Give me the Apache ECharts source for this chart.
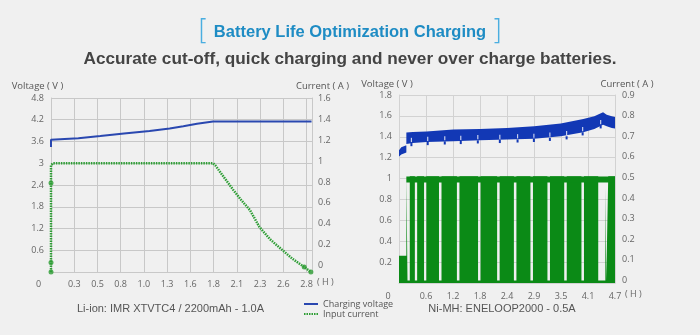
<!DOCTYPE html>
<html><head><meta charset="utf-8">
<script src="https://cdn.jsdelivr.net/npm/echarts@6/dist/echarts.min.js"></script>
<style>html,body{margin:0;padding:0;background:#f0f0f0}#c{width:700px;height:335px}</style>
</head><body><div id="c"></div>
<script>
// ---------- Left chart: Li-ion ----------
const liXLabels = ['0','0.3','0.5','0.8','1.0','1.3','1.6','1.8','2.1','2.3','2.6','2.8'];
const liCurLabels = [0, 0.2, 0.4, 0.6, 0.8, 1, 1.2, 1.4, 1.6];
const liVoltT = [0, 0, 0.3, 0.54, 0.8, 1.08, 1.3, 1.45, 1.6, 1.775, 2.855];
const liVoltV = [3.45, 3.65, 3.69, 3.75, 3.82, 3.89, 3.96, 4.02, 4.09, 4.15, 4.15];
const liCurT = [0, 0, 0, 0, 0.02, 0.05, 1.775, 1.80, 2.0, 2.087, 2.18, 2.284, 2.4, 2.538, 2.65, 2.775, 2.848];
const liCurA = [-0.064, 0.026, 0.79, 0.96, 0.98, 0.98, 0.98, 0.96, 0.72, 0.624, 0.53, 0.368, 0.25, 0.144, 0.06, -0.016, -0.064];
const liDotT = [0, 0, 0, 2.775, 2.848];
const liDotA = [-0.064, 0.026, 0.79, -0.016, -0.064];

// ---------- Right chart: Ni-MH ----------
const niXLabels = ['0','0.6','1.2','1.8','2.4','2.9','3.5','4.1','4.7'];
const niCurLabels = [0, 0.1, 0.2, 0.3, 0.4, 0.5, 0.6, 0.7, 0.8, 0.9];
const niVoltT    = [0,    0.05, 0.16, 0.16, 0.3,   0.6,  1.18,  1.76,  2.35,  2.94, 3.52,  4.01,  4.25,  4.44,  4.52, 4.63,  4.70];
const niVoltHigh = [1.27, 1.30, 1.32, 1.44, 1.445, 1.45, 1.47,  1.475, 1.485, 1.50, 1.526, 1.57,  1.596, 1.634, 1.61, 1.596, 1.59];
const niVoltLow  = [1.21, 1.23, 1.25, 1.33, 1.34,  1.35, 1.356, 1.366, 1.373, 1.38, 1.405, 1.443, 1.475, 1.516, 1.50, 1.485, 1.48];
// rest-period voltage drops seen as notches under the band
const niNotchT = [0.27, 0.625, 0.996, 1.344, 1.715, 2.194, 2.58, 2.935, 3.283, 3.647, 3.996, 4.388];
const niNotchV = [1.34, 1.35, 1.356, 1.36, 1.366, 1.37, 1.375, 1.38, 1.39, 1.405, 1.443, 1.51];
const niCurT = [0, 0.16, 0.16,
  0.185, 0.185, 0.235, 0.235,
  0.345, 0.345, 0.395, 0.395,
  0.545, 0.545, 0.595, 0.595,
  0.87, 0.87, 0.925, 0.925,
  1.26, 1.26, 1.315, 1.315,
  1.72, 1.72, 1.775, 1.775,
  2.135, 2.135, 2.19, 2.19,
  2.50, 2.50, 2.555, 2.555,
  2.86, 2.86, 2.915, 2.915,
  3.23, 3.23, 3.285, 3.285,
  3.595, 3.595, 3.65, 3.65,
  3.97, 3.97, 4.025, 4.025,
  4.335, 4.335, 4.49, 4.49, 4.51, 4.51, 4.553, 4.553,
  4.70];
const niCurA = [0.12, 0.12, 0.505,
  0.505, 0, 0, 0.505,
  0.505, 0, 0, 0.505,
  0.505, 0, 0, 0.505,
  0.505, 0, 0, 0.505,
  0.505, 0, 0, 0.505,
  0.505, 0, 0, 0.505,
  0.505, 0, 0, 0.505,
  0.505, 0, 0, 0.505,
  0.505, 0, 0, 0.505,
  0.505, 0, 0, 0.505,
  0.505, 0, 0, 0.505,
  0.505, 0, 0, 0.505,
  0.505, 0, 0, 0.45, 0.45, 0, 0, 0.505,
  0.505];
const niPeakT = [0.16, 4.70];
const niPeakA = [0.49, 0.49];
const hourUnit = '( H )';

const pairs = (xs, ys) => xs.map((x, i) => [x, ys[i]]);

const BG = '#f0f0f0';
const BLUE = '#2a48b0', GREEN = '#2e9e35', NBLUE = '#1238b5', NGREEN = '#0b8a16';
const GRID1 = '#c8c8c8', GRID2 = '#d2d2d2';
const FONT = 'Open Sans';
const tickLbl = { color: '#666', fontSize: 9, fontFamily: FONT };
const nameSt = (pad) => ({ color: '#555', fontSize: 9.5, fontFamily: FONT, align: 'center', padding: pad });
const hName = { color: '#666', fontSize: 9, fontFamily: FONT, verticalAlign: 'top', lineHeight: 23 };

function bandItem(params, api) {
  if (params.dataIndex !== 0) return null;
  const pts = [];
  for (let i = 0; i < niVoltT.length; i++) pts.push(api.coord([niVoltT[i], niVoltHigh[i]]));
  for (let i = niVoltT.length - 1; i >= 0; i--) pts.push(api.coord([niVoltT[i], niVoltLow[i]]));
  return { type: 'polygon', shape: { points: pts }, style: { fill: NBLUE } };
}
function notchItem(params, api) {
  const t = api.value(0), v = api.value(1);
  const pLow = api.coord([t, v - 0.03]);
  const pBase = api.coord([t, v]);
  const pUp = api.coord([t, v + 0.05]);
  return { type: 'group', children: [
    { type: 'rect', shape: { x: pBase[0] - 1, y: pBase[1], width: 2, height: pLow[1] - pBase[1] }, style: { fill: NBLUE } },
    { type: 'rect', shape: { x: pBase[0] - 0.6, y: pUp[1], width: 1.2, height: pBase[1] - pUp[1] - 1 }, style: { fill: '#c8d0ec' } }
  ] };
}

const chart = echarts.init(document.getElementById('c'), null, { renderer: 'canvas' });
chart.setOption({
  animation: false,
  backgroundColor: BG,
  title: [
    { text: '{b|[}{t|Battery Life Optimization Charging}{b|]}', left: 'center', top: 18, padding: 0,
      textStyle: { rich: {
        b: { fontSize: 29, fontFamily: 'DejaVu Sans', fontWeight: 'lighter', color: '#4aaee0' },
        t: { fontSize: 16.5, fontFamily: 'Liberation Sans', fontWeight: 'bold', color: '#1e8cc4', padding: [0, 5, 0, 5] } } } },
    { text: 'Accurate cut-off, quick charging and never over charge batteries.', left: 'center', top: 51, padding: 0,
      textStyle: { fontSize: 17.2, fontFamily: 'Liberation Sans', fontWeight: 'bold', color: '#444' } }
  ],
  graphic: [
    { type: 'text', x: 170.5, y: 309, style: { text: 'Li-ion: IMR XTVTC4 / 2200mAh - 1.0A', align: 'center', verticalAlign: 'middle', fill: '#555', font: '11px "Liberation Sans"' } },
    { type: 'text', x: 502, y: 309, style: { text: 'Ni-MH: ENELOOP2000 - 0.5A', align: 'center', verticalAlign: 'middle', fill: '#555', font: '11px "Liberation Sans"' } },
    { type: 'text', left: 317, top: 278, style: { text: hourUnit, fill: '#666', font: '9px "Open Sans"' } }
  ],
  legend: {
    data: ['Charging voltage', 'Input current'], orient: 'vertical', left: 298, top: 294,
    itemWidth: 14, itemHeight: 4, itemGap: 0, selectedMode: false,
    itemStyle: { opacity: 0 },
    textStyle: { fontSize: 9, color: '#555', fontFamily: FONT, lineHeight: 10 }
  },
  grid: [
    { left: 51, top: 98, width: 261, height: 174 },
    { left: 399, top: 95, width: 216, height: 188 }
  ],
  xAxis: [
    { type: 'value', gridIndex: 0, min: 0, max: 2.86, interval: 2.8 / 11,
      axisLine: { lineStyle: { color: GRID1 } }, axisTick: { show: false },
      splitLine: { lineStyle: { color: GRID1 } },
      axisLabel: Object.assign({ margin: 8,
        formatter: (v, i) => i === 0 ? '{z|0}' : (liXLabels[i] || ''),
        rich: { z: { padding: [0, 25, 0, 0], color: '#666', fontSize: 9, fontFamily: FONT } } }, tickLbl) },
    { type: 'value', gridIndex: 1, min: 0, max: 4.7, interval: 0.5875,
      name: hourUnit, nameLocation: 'end', nameGap: 10, nameMoveOverlap: false, nameTextStyle: hName,
      axisLine: { lineStyle: { color: GRID2 } }, axisTick: { show: false },
      splitLine: { lineStyle: { color: GRID2 } },
      axisLabel: Object.assign({ margin: 9, formatter: (v, i) => i === 0 ? '{z|0}' : (niXLabels[i] || ''),
        rich: { z: { padding: [0, 22, 0, 0], color: '#666', fontSize: 9, fontFamily: FONT } } }, tickLbl) }
  ],
  yAxis: [
    { type: 'value', gridIndex: 0, position: 'left', min: 0, max: 4.8, interval: 0.6,
      name: 'Voltage ( V )', nameGap: 7, nameMoveOverlap: false, nameTextStyle: nameSt([0, 27, 0, 0]),
      axisLine: { show: true, lineStyle: { color: GRID1 } }, axisTick: { show: false },
      splitLine: { lineStyle: { color: GRID1 } },
      axisLabel: Object.assign({ margin: 7, showMinLabel: false }, tickLbl) },
    { type: 'value', gridIndex: 0, position: 'right', min: -0.064, max: 1.606,
      name: 'Current ( A )', nameGap: 7, nameMoveOverlap: false, nameTextStyle: nameSt([0, 0, 0, 21]),
      axisLine: { show: true, lineStyle: { color: GRID1 } }, axisTick: { show: false },
      splitLine: { show: false },
      axisLabel: Object.assign({ margin: 6, customValues: liCurLabels }, tickLbl) },
    { type: 'value', gridIndex: 1, position: 'left', min: 0, max: 1.8, interval: 0.2,
      name: 'Voltage ( V )', nameGap: 6, nameMoveOverlap: false, nameTextStyle: nameSt([0, 24, 0, 0]),
      axisLine: { show: true, lineStyle: { color: GRID2 } }, axisTick: { show: false },
      splitLine: { lineStyle: { color: GRID2 } },
      axisLabel: Object.assign({ margin: 7, showMinLabel: false }, tickLbl) },
    { type: 'value', gridIndex: 1, position: 'right', min: -0.0126, max: 0.9,
      name: 'Current ( A )', nameGap: 6, nameMoveOverlap: false, nameTextStyle: nameSt([0, 0, 0, 24]),
      axisLine: { show: true, lineStyle: { color: GRID2 } }, axisTick: { show: false },
      splitLine: { show: false },
      axisLabel: Object.assign({ margin: 7, customValues: niCurLabels }, tickLbl) }
  ],
  series: [
    { name: 'Charging voltage', type: 'line', xAxisIndex: 0, yAxisIndex: 0,
      data: pairs(liVoltT, liVoltV), symbol: 'none', color: BLUE,
      lineStyle: { color: BLUE, width: 2 } },
    { name: 'Input current', type: 'line', xAxisIndex: 0, yAxisIndex: 1, clip: false,
      data: pairs(liCurT, liCurA), symbol: 'none', color: GREEN,
      lineStyle: { color: GREEN, width: 2.5, type: [1.5, 1] } },
    { name: 'Input current', type: 'scatter', xAxisIndex: 0, yAxisIndex: 1, clip: false,
      data: pairs(liDotT, liDotA), symbolSize: 5, itemStyle: { color: GREEN } },
    { name: 'Charging voltage', type: 'custom', xAxisIndex: 1, yAxisIndex: 2,
      renderItem: bandItem, color: NBLUE,
      data: niVoltT.map((t, i) => [t, niVoltHigh[i], niVoltLow[i]]), encode: { x: 0, y: [1, 2] } },
    { name: 'Charging voltage', type: 'custom', xAxisIndex: 1, yAxisIndex: 2,
      renderItem: notchItem, color: NBLUE, z: 3,
      data: pairs(niNotchT, niNotchV), encode: { x: 0, y: 1 } },
    { name: 'Input current', type: 'line', xAxisIndex: 1, yAxisIndex: 3,
      data: pairs(niCurT, niCurA), symbol: 'none', color: NGREEN,
      lineStyle: { width: 0 }, areaStyle: { color: NGREEN, opacity: 1, origin: 'start' } },
    { name: 'Input current', type: 'line', xAxisIndex: 1, yAxisIndex: 3,
      data: pairs(niPeakT, niPeakA), symbol: 'none', color: NGREEN,
      lineStyle: { color: NGREEN, width: 6 } }
  ]
});
</script></body></html>
